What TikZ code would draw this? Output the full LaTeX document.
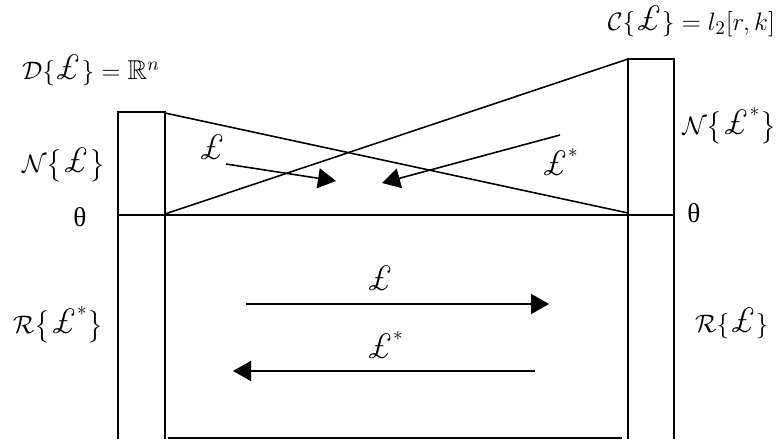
\documentclass[tikz,border=0pt]{standalone}
\usepackage{amsmath}
\usepackage{amssymb}
\usepackage{fontspec}
\newfontfamily\thetafont{Liberation Serif}
\usetikzlibrary{arrows.meta}
\newcommand{\Lop}{\text{\scalebox{1.3}{\itshape\pounds}}}

\begin{document}
\begin{tikzpicture}[x=0.2mm, y=-0.2mm,
    frame/.style={line width=0.9pt},
    oparrow/.style={line width=0.9pt, -{Triangle[length=3.6mm, width=4mm]}},
    lbl/.style={font=\fontsize{15.5}{19}\selectfont, inner sep=1pt}]
    \useasboundingbox (0,0) rectangle (780,439);

    % Domain and codomain columns
    \draw[frame] (118,439) -- (118,112) -- (165,112) -- (165,439);
    \draw[frame] (628,439) -- (628,59) -- (674,59) -- (674,439);
    \draw[frame] (118,215) -- (674,215);
    \draw[frame] (168,438) -- (622,438);

    % Crossing maps
    \draw[frame] (165,113) -- (628,213);
    \draw[frame] (165,214) -- (628,59);

    % Labels
    \node[lbl, anchor=west] (dom) at (20,70) {$\mathcal{D}\{\Lop\} = \mathbb{R}^n$};
    \node[lbl, anchor=east] (cod) at (777,21) {$\mathcal{C}\{\Lop\} = l_2[r,k]$};
    \node[lbl, anchor=west] (nulL) at (20,165) {$\mathcal{N}\bigl\{\Lop\bigr\}$};
    \node[lbl, anchor=east] (nulA) at (778,126) {$\mathcal{N}\bigl\{\Lop^*\bigr\}$};
    \node[lbl, anchor=west] (ranA) at (11,325) {$\mathcal{R}\bigl\{\Lop^*\bigr\}$};
    \node[lbl, anchor=west] (ranL) at (693,323) {$\mathcal{R}\{\Lop\}$};
    \node[lbl] (zeroL) at (80,217) {\thetafont θ};
    \node[lbl] (zeroR) at (694,213) {\thetafont θ};

    % Operator arrows
    \node[lbl] (opUp) at (212,147) {$\Lop$};
    \node[lbl] (adUp) at (560,162) {$\Lop^*$};
    \node[lbl] (opLo) at (380,278) {$\Lop$};
    \node[lbl] (adLo) at (385,345) {$\Lop^*$};
    \foreach \n/\x/\y in {a/226/164, b/336/181, c/560/135, d/382/183,
                          e/246/304, f/549/304, g/535/371, h/233/371} {
        \coordinate (\n) at (\x,\y);
    }
    \draw[oparrow] (a) -- (b);
    \draw[oparrow] (c) -- (d);
    \draw[oparrow] (e) -- (f);
    \draw[oparrow] (g) -- (h);
\end{tikzpicture}
\end{document}
